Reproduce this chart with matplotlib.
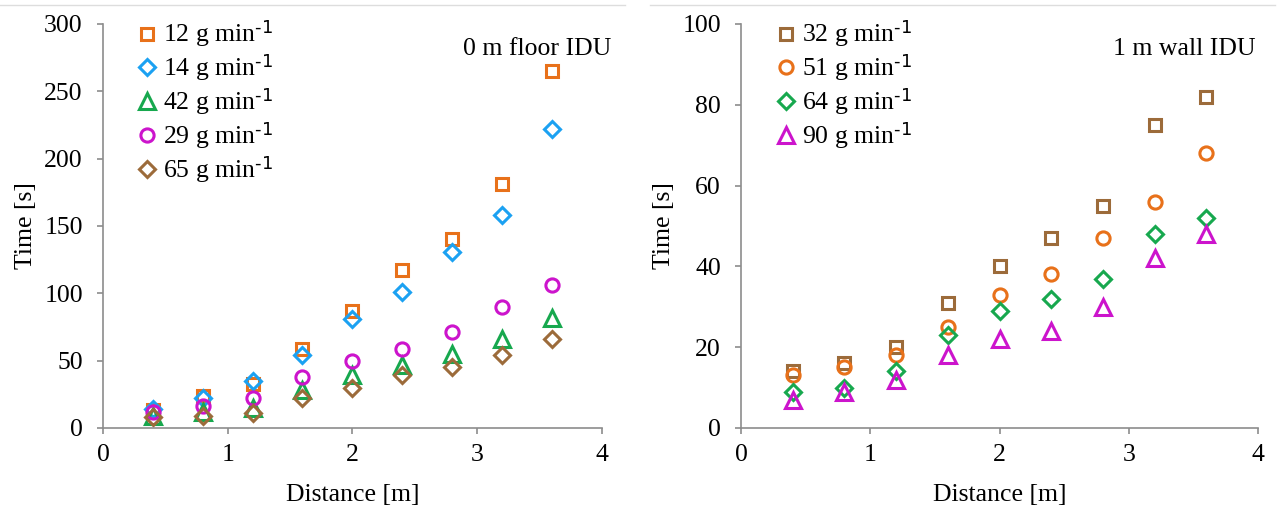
import matplotlib.pyplot as plt
import matplotlib.lines as mlines

plt.rcParams['font.family'] = ['Liberation Serif', 'DejaVu Serif']
plt.rcParams['mathtext.default'] = 'regular'
plt.rcParams['font.size'] = 18.5

# distances [m]
distance = [0.4, 0.8, 1.2, 1.6, 2.0, 2.4, 2.8, 3.2, 3.6]

# 0 m floor IDU
floor_labels = ['12', '14', '42', '29', '65']
floor_12 = [13, 24, 33, 59, 87, 117, 140, 181, 265]
floor_14 = [14, 22, 35, 54, 81, 101, 131, 158, 222]
floor_42 = [9, 12, 15, 28, 39, 47, 55, 66, 82]
floor_29 = [12, 16, 22, 38, 50, 59, 71, 90, 106]
floor_65 = [8, 9, 11, 22, 30, 39, 45, 54, 66]

# 1 m wall IDU
wall_labels = ['32', '51', '64', '90']
wall_32 = [14, 16, 20, 31, 40, 47, 55, 75, 82]
wall_51 = [13, 15, 18, 25, 33, 38, 47, 56, 68]
wall_64 = [9, 10, 14, 23, 29, 32, 37, 48, 52]
wall_90 = [7, 9, 12, 18, 22, 24, 30, 42, 48]

orange = '#E8711A'
blue = '#1BA1F2'
green = '#17A84E'
magenta = '#CC14CC'
brown = '#9C6B3A'

fig = plt.figure(figsize=(12.79, 5.08), dpi=100)
ax1 = fig.add_axes([0.0805, 0.1575, 0.390, 0.7953])
ax2 = fig.add_axes([0.5794, 0.1575, 0.4042, 0.7953])

# faint frame lines at top of the image
fig.add_artist(mlines.Line2D([0.0, 0.489], [0.99, 0.99], color='#dddddd', lw=1))
fig.add_artist(mlines.Line2D([0.508, 0.997], [0.99, 0.99], color='#dddddd', lw=1))

def style(ax, ymax, ystep):
    for s in ['top', 'right']:
        ax.spines[s].set_visible(False)
    for s in ['left', 'bottom']:
        ax.spines[s].set_color('#8c8c8c')
        ax.spines[s].set_linewidth(1.2)
    ax.set_xlim(0, 4)
    ax.set_ylim(0, ymax)
    ax.set_xticks([0, 1, 2, 3, 4])
    ax.set_yticks(range(0, ymax + 1, ystep))
    ax.tick_params(direction='out', length=4.5, color='#8c8c8c', width=1.2, labelsize=18.5)
    ax.tick_params(axis='x', pad=7)
    ax.tick_params(axis='y', pad=10)
    ax.set_xlabel('Distance [m]', fontsize=18.5, labelpad=13)
    ax.set_ylabel('Time [s]', fontsize=18.5, labelpad=5)

sup = r' g min$^{\text{-1}}$'

def kw(m):
    size = {'s': 8, 'D': 8.3, '^': 11, 'o': 9.5}[m]
    return dict(marker=m, linestyle='none', fillstyle='none', markersize=size, markeredgewidth=2.2)

ax1.plot(distance, floor_12, color=orange, label=floor_labels[0] + sup, **kw('s'))
ax1.plot(distance, floor_14, color=blue, label=floor_labels[1] + sup, **kw('D'))
ax1.plot(distance, floor_42, color=green, label=floor_labels[2] + sup, **kw('^'))
ax1.plot(distance, floor_29, color=magenta, label=floor_labels[3] + sup, **kw('o'))
ax1.plot(distance, floor_65, color=brown, label=floor_labels[4] + sup, **kw('D'))
style(ax1, 300, 50)
ax1.text(1.02, 0.965, '0 m floor IDU', transform=ax1.transAxes, ha='right', va='top', fontsize=18.5)

ax2.plot(distance, wall_32, color=brown, label=wall_labels[0] + sup, **kw('s'))
ax2.plot(distance, wall_51, color=orange, label=wall_labels[1] + sup, **kw('o'))
ax2.plot(distance, wall_64, color=green, label=wall_labels[2] + sup, **kw('D'))
ax2.plot(distance, wall_90, color=magenta, label=wall_labels[3] + sup, **kw('^'))
style(ax2, 100, 20)
ax2.text(0.996, 0.965, '1 m wall IDU', transform=ax2.transAxes, ha='right', va='top', fontsize=18.5)

for ax in (ax1, ax2):
    ax.legend(loc='upper left', bbox_to_anchor=(0.05, 1.04), frameon=False, fontsize=18.5,
              handlelength=0.7, handletextpad=0.25, labelspacing=0.1, borderaxespad=0)

plt.savefig('out.png', dpi=100)
